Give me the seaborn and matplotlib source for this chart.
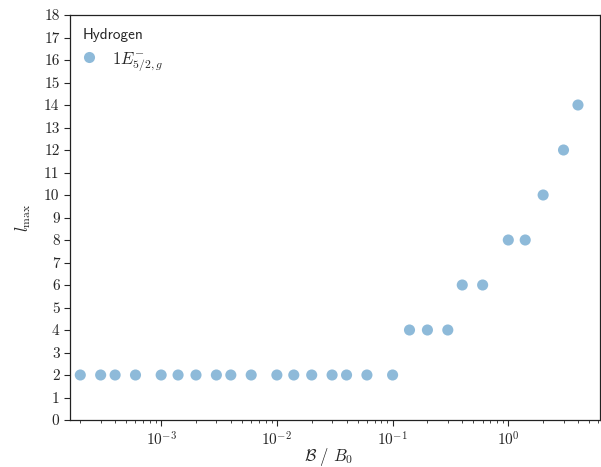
import numpy as np
import pandas as pd
import matplotlib
matplotlib.use("Agg")
import matplotlib.pyplot as plt
import seaborn as sns

# Field strengths (in units of B0) and maximal angular momentum l_max
field = [2e-4, 3e-4, 4e-4, 6e-4,
         1e-3, 1.4e-3, 2e-3, 3e-3, 4e-3, 6e-3,
         1e-2, 1.4e-2, 2e-2, 3e-2, 4e-2, 6e-2,
         0.1, 0.14, 0.2, 0.3, 0.4, 0.6,
         1.0, 1.4, 2.0, 3.0, 4.0]
lmax = [2, 2, 2, 2,
        2, 2, 2, 2, 2, 2,
        2, 2, 2, 2, 2, 2,
        2, 4, 4, 4, 6, 6,
        8, 8, 10, 12, 14]
state_label = r"$1E^{-}_{5/2,g}$"
yticks = list(range(0, 19))

sns.set_style("ticks")
plt.rcParams["font.family"] = ["cmr10"]
plt.rcParams["mathtext.fontset"] = "cm"
plt.rcParams["axes.formatter.use_mathtext"] = True
plt.rcParams["axes.unicode_minus"] = False

df = pd.DataFrame({"B": field, "lmax": lmax, "state": state_label})

fig = plt.figure(figsize=(6.01, 4.67), dpi=100)
ax = fig.add_axes([70 / 601, 1 - 420 / 467, 530 / 601, 405 / 467])

sns.scatterplot(data=df, x="B", y="lmax", hue="state", palette=["#1f77b4"],
                alpha=0.5, s=64, linewidth=0, ax=ax)

ax.set_xscale("log")
ax.set_xlim(1.63e-4, 6.2)
ax.set_ylim(0, 18)
ax.set_yticks(yticks)
ax.set_yticklabels([str(v) for v in yticks])
ax.tick_params(axis="both", labelsize=11, direction="out", length=4, width=0.8)
ax.tick_params(axis="x", which="minor", length=2, width=0.6)
for sp in ax.spines.values():
    sp.set_linewidth(0.9)
    sp.set_color("#222222")

ax.set_xlabel(r"$\mathcal{B}\ /\ B_0$", fontsize=12, labelpad=-2)
ax.xaxis.set_label_coords(0.487, -0.065)
ax.set_ylabel(r"$l_{\mathrm{max}}$", fontsize=12, labelpad=8)

handles, labels = ax.get_legend_handles_labels()
leg = ax.legend(handles, labels, title="Hydrogen", loc="upper left",
                frameon=False, fontsize=12, title_fontsize=11,
                markerscale=1.0, handlelength=0.8, handletextpad=1.0,
                borderaxespad=0.35, alignment="left")
leg.get_title().set_family("cmss10")

fig.savefig("out.png", dpi=100)
